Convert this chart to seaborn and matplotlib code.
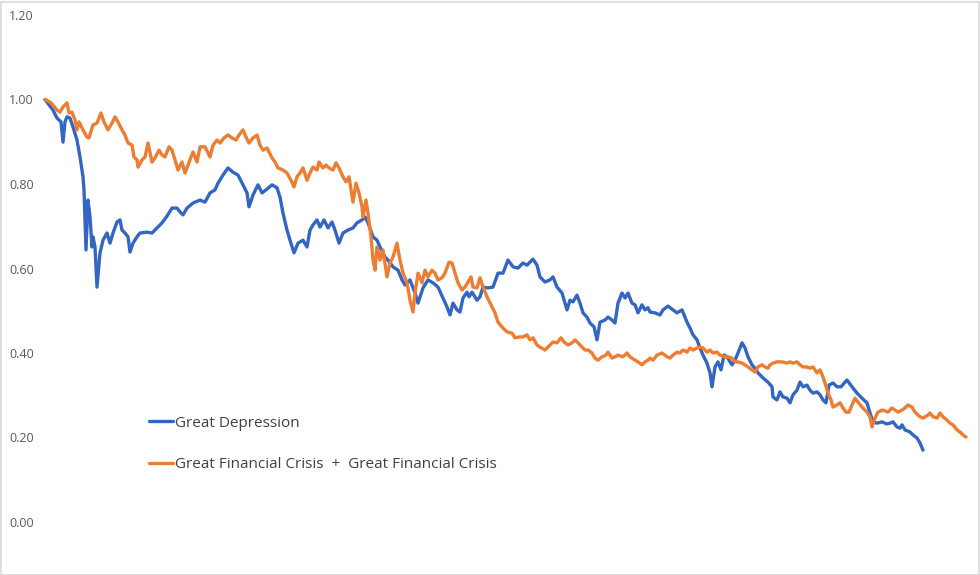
import matplotlib
matplotlib.use("Agg")
import matplotlib.pyplot as plt
import seaborn as sns
import pandas as pd
from matplotlib.patches import Rectangle

# ---- data ----
series_names = ["Great Depression", "Great Financial Crisis  +  Great Financial Crisis"]

gd_day = [0, 8, 12, 16, 18, 20, 22, 25, 28, 32, 35, 38, 39, 41, 43, 45, 47, 48, 50, 52,
          55, 58, 62, 65, 68, 72, 75, 77, 80, 83, 85, 88, 92, 95, 102, 107, 112, 117, 122, 127,
          132, 135, 138, 142, 148, 155, 160, 165, 170, 173, 178, 183, 188, 193, 198, 202, 204, 208, 213, 217,
          221, 227, 232, 235, 238, 242, 245, 249, 253, 258, 262, 265, 268, 272, 275, 279, 283, 287, 290, 294,
          298, 303, 308, 312, 317, 320, 323, 328, 332, 335, 340, 343, 348, 353, 357, 360, 365, 370, 373, 378,
          383, 388, 393, 398, 402, 405, 408, 412, 415, 418, 422, 424, 427, 432, 435, 438, 443, 448, 453, 458,
          463, 468, 473, 478, 482, 488, 492, 495, 500, 505, 508, 512, 517, 520, 522, 525, 528, 532, 535, 538,
          542, 545, 549, 552, 555, 560, 563, 567, 570, 573, 577, 580, 583, 587, 590, 593, 597, 600, 603, 605,
          610, 615, 618, 623, 628, 632, 637, 642, 645, 648, 652, 655, 658, 662, 665, 667, 670, 673, 676, 679,
          682, 687, 690, 693, 697, 700, 703, 707, 710, 713, 718, 723, 727, 728, 732, 735, 738, 742, 745, 748,
          752, 755, 758, 762, 765, 768, 772, 775, 778, 781, 784, 788, 792, 796, 800, 802, 807, 812, 817, 822,
          825, 828, 832, 837, 842, 845, 848, 852, 855, 857, 860, 865, 868, 872, 875, 878]
gd_val = [1.000, 0.975, 0.956, 0.947, 0.899, 0.947, 0.959, 0.956, 0.935, 0.904, 0.864, 0.817, 0.786, 0.644, 0.762, 0.722, 0.651, 0.675, 0.651, 0.556,
          0.637, 0.667, 0.684, 0.660, 0.684, 0.710, 0.715, 0.691, 0.684, 0.675, 0.639, 0.660, 0.675, 0.684, 0.686, 0.684, 0.696, 0.708, 0.724, 0.743,
          0.743, 0.734, 0.727, 0.743, 0.755, 0.762, 0.757, 0.779, 0.786, 0.802, 0.821, 0.838, 0.828, 0.821, 0.798, 0.779, 0.746, 0.774, 0.798, 0.779,
          0.786, 0.798, 0.791, 0.769, 0.731, 0.691, 0.667, 0.637, 0.660, 0.667, 0.651, 0.691, 0.703, 0.715, 0.698, 0.715, 0.696, 0.710, 0.691, 0.660,
          0.684, 0.691, 0.696, 0.708, 0.715, 0.722, 0.708, 0.675, 0.667, 0.651, 0.627, 0.620, 0.604, 0.596, 0.573, 0.561, 0.573, 0.542, 0.518, 0.554,
          0.573, 0.566, 0.556, 0.530, 0.509, 0.490, 0.518, 0.502, 0.497, 0.530, 0.544, 0.533, 0.544, 0.525, 0.533, 0.556, 0.554, 0.556, 0.589, 0.589,
          0.620, 0.604, 0.601, 0.613, 0.608, 0.622, 0.608, 0.580, 0.568, 0.573, 0.580, 0.556, 0.542, 0.518, 0.502, 0.525, 0.521, 0.537, 0.518, 0.495,
          0.485, 0.471, 0.462, 0.431, 0.473, 0.478, 0.485, 0.478, 0.471, 0.518, 0.542, 0.530, 0.542, 0.518, 0.514, 0.495, 0.514, 0.502, 0.507, 0.497,
          0.495, 0.490, 0.502, 0.511, 0.502, 0.495, 0.502, 0.473, 0.459, 0.443, 0.431, 0.412, 0.395, 0.376, 0.353, 0.320, 0.367, 0.379, 0.360, 0.395,
          0.391, 0.372, 0.383, 0.400, 0.424, 0.412, 0.391, 0.372, 0.364, 0.353, 0.341, 0.331, 0.320, 0.296, 0.289, 0.308, 0.296, 0.293, 0.282, 0.301,
          0.312, 0.331, 0.320, 0.324, 0.312, 0.305, 0.308, 0.301, 0.289, 0.282, 0.324, 0.329, 0.320, 0.320, 0.331, 0.336, 0.320, 0.305, 0.293, 0.282,
          0.258, 0.237, 0.234, 0.237, 0.232, 0.234, 0.237, 0.225, 0.222, 0.230, 0.218, 0.213, 0.206, 0.199, 0.187, 0.170]

gfc_day = [0, 5, 8, 12, 15, 18, 22, 24, 27, 30, 32, 34, 38, 42, 44, 48, 52, 56, 59, 63,
           67, 70, 73, 77, 80, 83, 87, 89, 92, 93, 97, 100, 103, 107, 110, 114, 117, 120, 124, 127,
           130, 133, 137, 140, 143, 148, 152, 155, 160, 165, 168, 172, 175, 179, 183, 187, 191, 194, 198, 201,
           204, 208, 212, 215, 218, 222, 227, 230, 233, 238, 242, 246, 249, 252, 255, 258, 262, 265, 268, 272,
           274, 278, 281, 284, 288, 291, 294, 298, 301, 304, 308, 311, 314, 317, 318, 321, 323, 326, 328, 330,
           332, 335, 338, 342, 345, 348, 352, 355, 358, 362, 365, 368, 370, 373, 377, 380, 383, 387, 390, 393,
           397, 400, 404, 407, 410, 413, 417, 420, 423, 426, 428, 432, 435, 438, 442, 447, 450, 453, 458, 462,
           467, 470, 475, 478, 482, 485, 488, 492, 495, 500, 505, 508, 512, 516, 519, 523, 527, 530, 533, 537,
           540, 543, 547, 550, 553, 557, 561, 563, 567, 570, 573, 578, 582, 585, 590, 593, 597, 600, 603, 605,
           608, 612, 617, 622, 625, 628, 632, 635, 638, 642, 645, 648, 652, 655, 658, 662, 665, 668, 672, 675,
           680, 683, 687, 690, 693, 697, 700, 703, 707, 710, 713, 717, 720, 723, 725, 728, 732, 737, 742, 745,
           748, 752, 755, 758, 762, 765, 768, 772, 775, 778, 780, 783, 786, 788, 792, 795, 798, 801, 804, 807,
           810, 813, 817, 820, 822, 825, 827, 830, 833, 837, 840, 843, 847, 850, 853, 857, 860, 863, 867, 870,
           875, 878, 883, 885, 888, 892, 895, 898, 902, 905, 908, 912, 915, 918, 921]
gfc_val = [1.000, 0.994, 0.987, 0.975, 0.970, 0.982, 0.992, 0.968, 0.970, 0.951, 0.928, 0.947, 0.928, 0.911, 0.909, 0.940, 0.944, 0.968, 0.947, 0.928,
           0.944, 0.959, 0.947, 0.928, 0.916, 0.897, 0.892, 0.864, 0.857, 0.840, 0.857, 0.864, 0.897, 0.852, 0.862, 0.880, 0.869, 0.864, 0.888, 0.880,
           0.857, 0.833, 0.852, 0.826, 0.845, 0.876, 0.852, 0.888, 0.888, 0.864, 0.892, 0.904, 0.897, 0.909, 0.916, 0.909, 0.904, 0.916, 0.928, 0.911,
           0.897, 0.909, 0.916, 0.892, 0.880, 0.885, 0.862, 0.852, 0.838, 0.833, 0.826, 0.809, 0.793, 0.817, 0.826, 0.838, 0.809, 0.826, 0.840, 0.833,
           0.852, 0.838, 0.845, 0.838, 0.833, 0.850, 0.838, 0.817, 0.805, 0.817, 0.757, 0.802, 0.779, 0.746, 0.722, 0.762, 0.731, 0.675, 0.620, 0.596,
           0.651, 0.620, 0.644, 0.580, 0.613, 0.627, 0.660, 0.620, 0.589, 0.566, 0.525, 0.497, 0.542, 0.589, 0.566, 0.596, 0.580, 0.596, 0.589, 0.573,
           0.578, 0.589, 0.615, 0.613, 0.589, 0.566, 0.549, 0.556, 0.568, 0.580, 0.556, 0.554, 0.578, 0.556, 0.533, 0.509, 0.495, 0.473, 0.459, 0.450,
           0.447, 0.436, 0.438, 0.438, 0.443, 0.431, 0.436, 0.419, 0.414, 0.407, 0.419, 0.426, 0.424, 0.436, 0.426, 0.419, 0.424, 0.431, 0.424, 0.414,
           0.407, 0.407, 0.400, 0.388, 0.383, 0.391, 0.395, 0.402, 0.388, 0.391, 0.395, 0.391, 0.400, 0.391, 0.383, 0.379, 0.372, 0.379, 0.383, 0.388,
           0.383, 0.395, 0.400, 0.391, 0.388, 0.395, 0.402, 0.400, 0.407, 0.402, 0.412, 0.407, 0.412, 0.414, 0.412, 0.402, 0.407, 0.400, 0.402, 0.395,
           0.391, 0.391, 0.388, 0.379, 0.379, 0.376, 0.372, 0.367, 0.360, 0.355, 0.367, 0.372, 0.367, 0.364, 0.372, 0.376, 0.379, 0.379, 0.376, 0.379,
           0.376, 0.379, 0.372, 0.367, 0.367, 0.364, 0.367, 0.353, 0.360, 0.343, 0.329, 0.305, 0.289, 0.272, 0.277, 0.282, 0.270, 0.260, 0.260, 0.277,
           0.293, 0.284, 0.272, 0.265, 0.260, 0.249, 0.225, 0.246, 0.260, 0.265, 0.263, 0.260, 0.270, 0.265, 0.260, 0.265, 0.270, 0.277, 0.272, 0.260,
           0.249, 0.246, 0.253, 0.258, 0.249, 0.246, 0.258, 0.249, 0.241, 0.234, 0.230, 0.218, 0.213, 0.206, 0.201]

y_ticks = [0.0, 0.2, 0.4, 0.6, 0.8, 1.0, 1.2]
y_tick_labels = ["0.00", "0.20", "0.40", "0.60", "0.80", "1.00", "1.20"]

colors = ["#3366C4", "#EE7D31"]

# ---- build long table ----
df = pd.concat([
    pd.DataFrame({"day": gd_day, "value": gd_val, "series": series_names[0]}),
    pd.DataFrame({"day": gfc_day, "value": gfc_val, "series": series_names[1]}),
], ignore_index=True)

sns.set_theme(style="white")
plt.rcParams["font.family"] = ["Open Sans", "DejaVu Sans"]

fig = plt.figure(figsize=(9.8, 5.75), dpi=100)
ax = fig.add_axes([42 / 980, 53 / 575, 933 / 980, 507 / 575])

sns.lineplot(data=df, x="day", y="value", hue="series", hue_order=series_names,
             palette=colors, estimator=None, sort=False, linewidth=2.4, ax=ax)

ax.set_xlim(-3, 930)
ax.set_ylim(0, 1.2)
ax.set_yticks(y_ticks)
ax.set_yticklabels(y_tick_labels)
ax.set_xticks([])
ax.set_xlabel("")
ax.set_ylabel("")
ax.tick_params(axis="y", length=0, pad=6, labelsize=9, labelcolor="#595959")
for s in ax.spines.values():
    s.set_visible(False)

handles, labels = ax.get_legend_handles_labels()
leg = ax.legend(handles, labels, loc="upper left", bbox_to_anchor=(141 / 980, 1 - 408 / 575),
                bbox_transform=fig.transFigure, frameon=False, fontsize=11,
                handlelength=1.6, handletextpad=0.15, labelspacing=1.72, borderpad=0)
for t in leg.get_texts():
    t.set_color("#404040")

fig.patches.append(Rectangle((0.5 / 980, 0.5 / 575), 978 / 980, 573 / 575, transform=fig.transFigure,
                             fill=False, edgecolor="#d9d9d9", linewidth=1.2))

fig.savefig("out.png", dpi=100)
